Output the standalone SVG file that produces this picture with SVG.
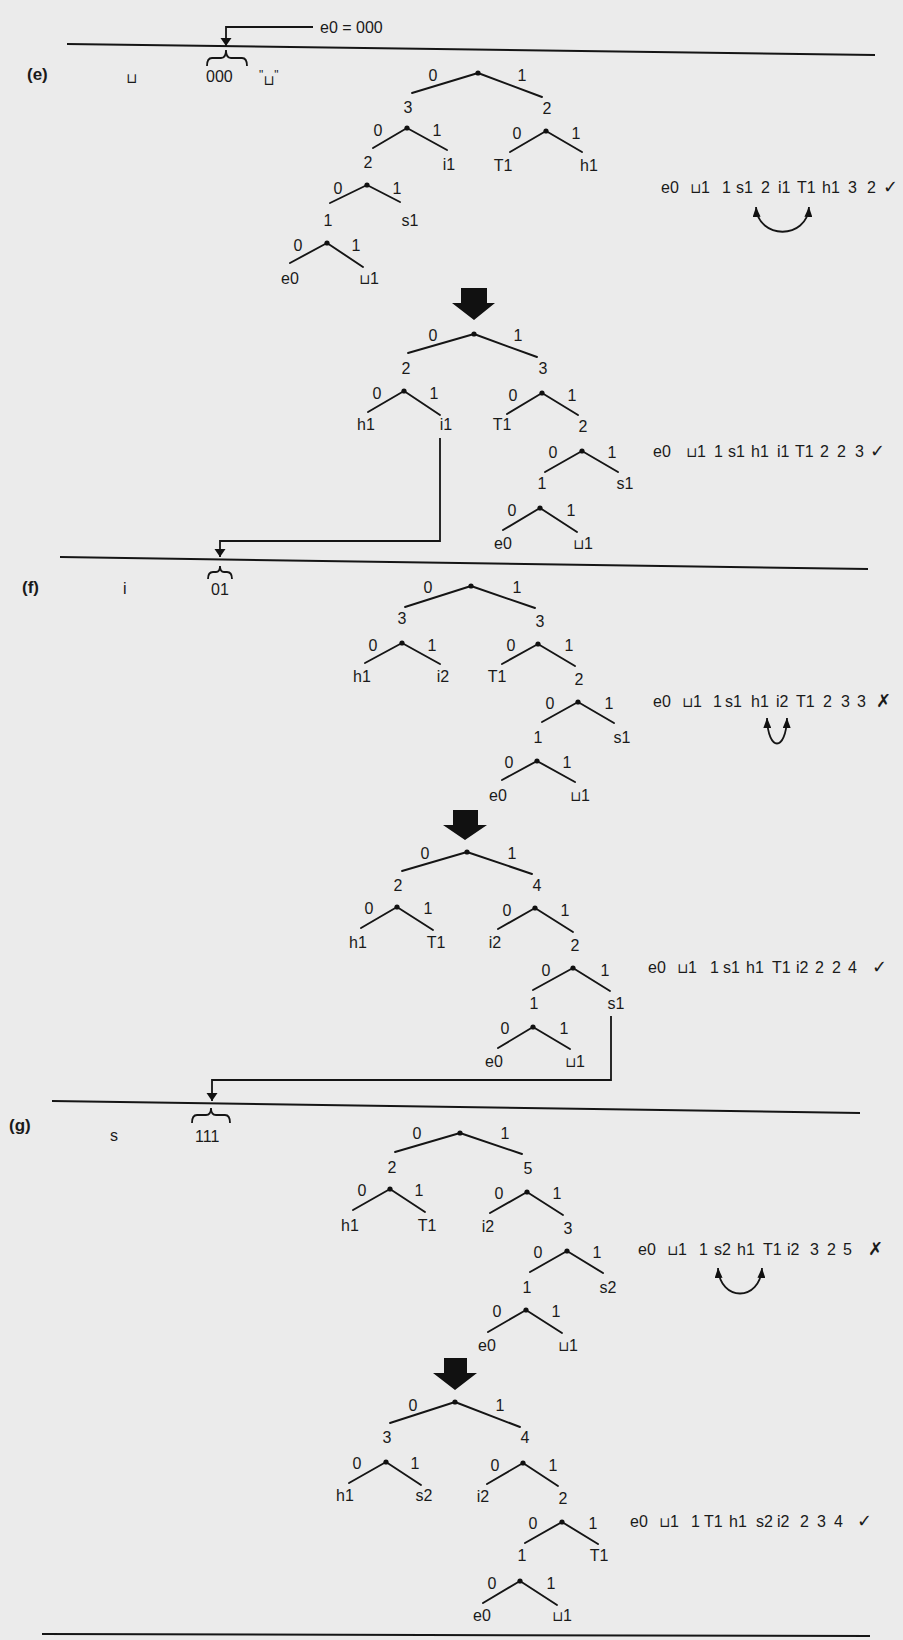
<svg xmlns="http://www.w3.org/2000/svg" width="903" height="1640" viewBox="0 0 903 1640">
<style>
.bg{fill:#ebebeb}
.sep{stroke:#151515;stroke-width:2;fill:none}
.ln{stroke:#151515;stroke-width:1.8;fill:none}
.edge{stroke:#151515;stroke-width:1.9;stroke-linecap:round}
.dot{fill:#111}
.t{font-family:"Liberation Sans",Arial,sans-serif;font-size:16px;fill:#1a1a1a;text-anchor:middle}
.s{font-family:"Liberation Sans",Arial,sans-serif;font-size:16px;fill:#1a1a1a}
.b{font-family:"Liberation Sans",Arial,sans-serif;font-size:17px;font-weight:bold;fill:#1a1a1a}
.cup{font-family:"DejaVu Sans",sans-serif;font-size:14px}
.sym{font-family:"DejaVu Sans",sans-serif;font-size:18px}
.blk{fill:#111}
</style>
<defs>
<marker id="ah" viewBox="0 0 8 12" refX="8" refY="6" markerWidth="8" markerHeight="12" markerUnits="userSpaceOnUse" orient="auto"><path d="M0,0.5 L8,6 L0,11.5 z" fill="#111"/></marker>
<marker id="sw" viewBox="0 0 10 8" refX="10" refY="4" markerWidth="10" markerHeight="8" markerUnits="userSpaceOnUse" orient="auto-start-reverse"><path d="M0,0 L10,4 L0,8 z" fill="#111"/></marker>
</defs>
<rect class="bg" x="0" y="0" width="903" height="1640"/>

<g id="separators">
<line class="sep" x1="67" y1="44" x2="875" y2="55"/>
<line class="sep" x1="60" y1="557" x2="868" y2="569"/>
<line class="sep" x1="52" y1="1101" x2="860" y2="1113"/>
<line class="sep" x1="42" y1="1634" x2="870" y2="1636"/>
</g>

<g id="header-e">
<text class="s" x="320" y="33" font-size="17">e0 = 000</text>
<text class="b" x="27" y="80">(e)</text>
<text class="s" x="126" y="83"><tspan class="cup">⊔</tspan></text>
<path class="ln" d="M207,66 Q207,58 212,58 H221 Q226,58 226,50 Q226,58 231,58 H242 Q247,58 247,66"/>
<text class="s" x="206" y="82">000</text>
<text class="s" x="259" y="85"><tspan font-size="12" dy="-6">"</tspan><tspan class="cup" dy="6">⊔</tspan><tspan font-size="12" dy="-6">"</tspan></text>
</g>

<g id="header-f">
<text class="b" x="22" y="593">(f)</text>
<text class="s" x="123" y="594">i</text>
<path class="ln" d="M208,579 Q208,572 213,572 H216 Q220,572 220,566 Q220,572 224,572 H227 Q232,572 232,579"/>
<text class="s" x="211" y="595">01</text>
</g>

<g id="header-g">
<text class="b" x="9" y="1131">(g)</text>
<text class="s" x="110" y="1141">s</text>
<path class="ln" d="M192,1123 Q192,1115 197,1115 H206 Q211,1115 211,1108 Q211,1115 216,1115 H225 Q230,1115 230,1123"/>
<text class="s" x="195" y="1142">111</text>
</g>

<g id="tree-e1">
<g id="e1-n0"><line class="edge" x1="478" y1="73" x2="412" y2="93"/><line class="edge" x1="478" y1="73" x2="542" y2="97"/><circle class="dot" cx="478" cy="73" r="2.6"/><text class="t" x="433" y="81">0</text><text class="t" x="522" y="81">1</text></g>
<g id="e1-n1"><text class="t" x="408" y="113">3</text><line class="edge" x1="407" y1="128" x2="373" y2="148"/><line class="edge" x1="407" y1="128" x2="447" y2="150"/><circle class="dot" cx="407" cy="128" r="2.6"/><text class="t" x="378" y="136">0</text><text class="t" x="437" y="136">1</text></g>
<g id="e1-n2"><text class="t" x="547" y="114">2</text><line class="edge" x1="546" y1="131" x2="510" y2="152"/><line class="edge" x1="546" y1="131" x2="582" y2="152"/><circle class="dot" cx="546" cy="131" r="2.6"/><text class="t" x="517" y="139">0</text><text class="t" x="576" y="139">1</text></g>
<g id="e1-n3"><text class="t" x="368" y="168">2</text><line class="edge" x1="367" y1="185" x2="330" y2="203"/><line class="edge" x1="367" y1="185" x2="400" y2="202"/><circle class="dot" cx="367" cy="185" r="2.6"/><text class="t" x="338" y="194">0</text><text class="t" x="397" y="194">1</text></g>
<g id="e1-n4"><text class="t" x="328" y="226">1</text><line class="edge" x1="327" y1="243" x2="290" y2="263"/><line class="edge" x1="327" y1="243" x2="363" y2="267"/><circle class="dot" cx="327" cy="243" r="2.6"/><text class="t" x="298" y="251">0</text><text class="t" x="356" y="251">1</text></g>
<g id="e1-leaves"><text class="t" x="449" y="170">i1</text><text class="t" x="503" y="171">T1</text><text class="t" x="589" y="171">h1</text><text class="t" x="410" y="226">s1</text><text class="t" x="290" y="284">e0</text><text class="t" x="369" y="284"><tspan class="cup">⊔</tspan>1</text></g>
</g>

<g id="list-e1"><text class="s" y="193"><tspan x="661">e0</tspan><tspan x="690" class="cup">⊔</tspan><tspan>1</tspan><tspan x="722">1</tspan><tspan x="736">s1</tspan><tspan x="761">2</tspan><tspan x="778">i1</tspan><tspan x="797">T1</tspan><tspan x="822">h1</tspan><tspan x="848">3</tspan><tspan x="867">2</tspan><tspan x="883" class="sym">✓</tspan></text></g>

<g id="tree-e2">
<g id="e2-n0"><line class="edge" x1="474" y1="334" x2="408" y2="353"/><line class="edge" x1="474" y1="334" x2="537" y2="357"/><circle class="dot" cx="474" cy="334" r="2.6"/><text class="t" x="433" y="341">0</text><text class="t" x="518" y="341">1</text></g>
<g id="e2-n1"><text class="t" x="406" y="374">2</text><line class="edge" x1="404" y1="391" x2="368" y2="412"/><line class="edge" x1="404" y1="391" x2="440" y2="415"/><circle class="dot" cx="404" cy="391" r="2.6"/><text class="t" x="377" y="399">0</text><text class="t" x="434" y="399">1</text></g>
<g id="e2-n2"><text class="t" x="543" y="374">3</text><line class="edge" x1="542" y1="393" x2="507" y2="414"/><line class="edge" x1="542" y1="393" x2="578" y2="415"/><circle class="dot" cx="542" cy="393" r="2.6"/><text class="t" x="513" y="401">0</text><text class="t" x="572" y="401">1</text></g>
<g id="e2-n3"><text class="t" x="583" y="432">2</text><line class="edge" x1="582" y1="451" x2="545" y2="472"/><line class="edge" x1="582" y1="451" x2="618" y2="472"/><circle class="dot" cx="582" cy="451" r="2.6"/><text class="t" x="553" y="458">0</text><text class="t" x="612" y="458">1</text></g>
<g id="e2-n4"><text class="t" x="542" y="489">1</text><line class="edge" x1="540" y1="508" x2="503" y2="530"/><line class="edge" x1="540" y1="508" x2="577" y2="532"/><circle class="dot" cx="540" cy="508" r="2.6"/><text class="t" x="512" y="516">0</text><text class="t" x="571" y="516">1</text></g>
<g id="e2-leaves"><text class="t" x="366" y="430">h1</text><text class="t" x="446" y="430">i1</text><text class="t" x="502" y="430">T1</text><text class="t" x="625" y="489">s1</text><text class="t" x="503" y="549">e0</text><text class="t" x="583" y="549"><tspan class="cup">⊔</tspan>1</text></g>
</g>

<g id="list-e2"><text class="s" y="457"><tspan x="653">e0</tspan><tspan x="686" class="cup">⊔</tspan><tspan>1</tspan><tspan x="714">1</tspan><tspan x="728">s1</tspan><tspan x="751">h1</tspan><tspan x="777">i1</tspan><tspan x="795">T1</tspan><tspan x="820">2</tspan><tspan x="837">2</tspan><tspan x="855">3</tspan><tspan x="870" class="sym">✓</tspan></text></g>

<g id="tree-f1">
<g id="f1-n0"><line class="edge" x1="471" y1="586" x2="405" y2="607"/><line class="edge" x1="471" y1="586" x2="535" y2="608"/><circle class="dot" cx="471" cy="586" r="2.6"/><text class="t" x="428" y="593">0</text><text class="t" x="517" y="593">1</text></g>
<g id="f1-n1"><text class="t" x="402" y="624">3</text><line class="edge" x1="402" y1="643" x2="365" y2="663"/><line class="edge" x1="402" y1="643" x2="440" y2="664"/><circle class="dot" cx="402" cy="643" r="2.6"/><text class="t" x="373" y="651">0</text><text class="t" x="432" y="651">1</text></g>
<g id="f1-n2"><text class="t" x="540" y="627">3</text><line class="edge" x1="538" y1="644" x2="502" y2="664"/><line class="edge" x1="538" y1="644" x2="575" y2="666"/><circle class="dot" cx="538" cy="644" r="2.6"/><text class="t" x="511" y="651">0</text><text class="t" x="569" y="651">1</text></g>
<g id="f1-n3"><text class="t" x="579" y="685">2</text><line class="edge" x1="578" y1="702" x2="542" y2="722"/><line class="edge" x1="578" y1="702" x2="614" y2="723"/><circle class="dot" cx="578" cy="702" r="2.6"/><text class="t" x="550" y="709">0</text><text class="t" x="609" y="709">1</text></g>
<g id="f1-n4"><text class="t" x="538" y="743">1</text><line class="edge" x1="537" y1="761" x2="502" y2="780"/><line class="edge" x1="537" y1="761" x2="575" y2="782"/><circle class="dot" cx="537" cy="761" r="2.6"/><text class="t" x="509" y="768">0</text><text class="t" x="567" y="768">1</text></g>
<g id="f1-leaves"><text class="t" x="362" y="682">h1</text><text class="t" x="443" y="682">i2</text><text class="t" x="497" y="682">T1</text><text class="t" x="622" y="743">s1</text><text class="t" x="498" y="801">e0</text><text class="t" x="580" y="801"><tspan class="cup">⊔</tspan>1</text></g>
</g>

<g id="list-f1"><text class="s" y="707"><tspan x="653">e0</tspan><tspan x="682" class="cup">⊔</tspan><tspan>1</tspan><tspan x="713">1</tspan><tspan x="725">s1</tspan><tspan x="751">h1</tspan><tspan x="776">i2</tspan><tspan x="796">T1</tspan><tspan x="823">2</tspan><tspan x="841">3</tspan><tspan x="857">3</tspan><tspan x="876" class="sym">✗</tspan></text></g>

<g id="tree-f2">
<g id="f2-n0"><line class="edge" x1="467" y1="852" x2="402" y2="871"/><line class="edge" x1="467" y1="852" x2="532" y2="874"/><circle class="dot" cx="467" cy="852" r="2.6"/><text class="t" x="425" y="859">0</text><text class="t" x="512" y="859">1</text></g>
<g id="f2-n1"><text class="t" x="398" y="891">2</text><line class="edge" x1="397" y1="907" x2="361" y2="928"/><line class="edge" x1="397" y1="907" x2="433" y2="930"/><circle class="dot" cx="397" cy="907" r="2.6"/><text class="t" x="369" y="914">0</text><text class="t" x="428" y="914">1</text></g>
<g id="f2-n2"><text class="t" x="537" y="891">4</text><line class="edge" x1="535" y1="908" x2="498" y2="929"/><line class="edge" x1="535" y1="908" x2="573" y2="932"/><circle class="dot" cx="535" cy="908" r="2.6"/><text class="t" x="507" y="916">0</text><text class="t" x="565" y="916">1</text></g>
<g id="f2-n3"><text class="t" x="575" y="951">2</text><line class="edge" x1="573" y1="968" x2="533" y2="990"/><line class="edge" x1="573" y1="968" x2="610" y2="991"/><circle class="dot" cx="573" cy="968" r="2.6"/><text class="t" x="546" y="976">0</text><text class="t" x="605" y="976">1</text></g>
<g id="f2-n4"><text class="t" x="534" y="1009">1</text><line class="edge" x1="533" y1="1027" x2="498" y2="1048"/><line class="edge" x1="533" y1="1027" x2="570" y2="1049"/><circle class="dot" cx="533" cy="1027" r="2.6"/><text class="t" x="505" y="1034">0</text><text class="t" x="564" y="1034">1</text></g>
<g id="f2-leaves"><text class="t" x="358" y="948">h1</text><text class="t" x="436" y="948">T1</text><text class="t" x="495" y="948">i2</text><text class="t" x="616" y="1009">s1</text><text class="t" x="494" y="1067">e0</text><text class="t" x="575" y="1067"><tspan class="cup">⊔</tspan>1</text></g>
</g>

<g id="list-f2"><text class="s" y="973"><tspan x="648">e0</tspan><tspan x="677" class="cup">⊔</tspan><tspan>1</tspan><tspan x="710">1</tspan><tspan x="723">s1</tspan><tspan x="746">h1</tspan><tspan x="772">T1</tspan><tspan x="796">i2</tspan><tspan x="815">2</tspan><tspan x="832">2</tspan><tspan x="848">4</tspan><tspan x="872" class="sym">✓</tspan></text></g>

<g id="tree-g1">
<g id="g1-n0"><line class="edge" x1="460" y1="1133" x2="395" y2="1152"/><line class="edge" x1="460" y1="1133" x2="522" y2="1154"/><circle class="dot" cx="460" cy="1133" r="2.6"/><text class="t" x="417" y="1139">0</text><text class="t" x="505" y="1139">1</text></g>
<g id="g1-n1"><text class="t" x="392" y="1173">2</text><line class="edge" x1="390" y1="1189" x2="353" y2="1210"/><line class="edge" x1="390" y1="1189" x2="425" y2="1212"/><circle class="dot" cx="390" cy="1189" r="2.6"/><text class="t" x="362" y="1196">0</text><text class="t" x="419" y="1196">1</text></g>
<g id="g1-n2"><text class="t" x="528" y="1174">5</text><line class="edge" x1="527" y1="1192" x2="490" y2="1213"/><line class="edge" x1="527" y1="1192" x2="563" y2="1215"/><circle class="dot" cx="527" cy="1192" r="2.6"/><text class="t" x="499" y="1199">0</text><text class="t" x="557" y="1199">1</text></g>
<g id="g1-n3"><text class="t" x="568" y="1234">3</text><line class="edge" x1="567" y1="1251" x2="530" y2="1272"/><line class="edge" x1="567" y1="1251" x2="603" y2="1273"/><circle class="dot" cx="567" cy="1251" r="2.6"/><text class="t" x="538" y="1258">0</text><text class="t" x="597" y="1258">1</text></g>
<g id="g1-n4"><text class="t" x="527" y="1293">1</text><line class="edge" x1="526" y1="1310" x2="488" y2="1332"/><line class="edge" x1="526" y1="1310" x2="562" y2="1333"/><circle class="dot" cx="526" cy="1310" r="2.6"/><text class="t" x="497" y="1317">0</text><text class="t" x="556" y="1317">1</text></g>
<g id="g1-leaves"><text class="t" x="350" y="1231">h1</text><text class="t" x="427" y="1231">T1</text><text class="t" x="488" y="1232">i2</text><text class="t" x="608" y="1293">s2</text><text class="t" x="487" y="1351">e0</text><text class="t" x="568" y="1351"><tspan class="cup">⊔</tspan>1</text></g>
</g>

<g id="list-g1"><text class="s" y="1255"><tspan x="638">e0</tspan><tspan x="667" class="cup">⊔</tspan><tspan>1</tspan><tspan x="699">1</tspan><tspan x="714">s2</tspan><tspan x="737">h1</tspan><tspan x="763">T1</tspan><tspan x="787">i2</tspan><tspan x="810">3</tspan><tspan x="827">2</tspan><tspan x="843">5</tspan><tspan x="868" class="sym">✗</tspan></text></g>

<g id="tree-g2">
<g id="g2-n0"><line class="edge" x1="455" y1="1402" x2="390" y2="1423"/><line class="edge" x1="455" y1="1402" x2="520" y2="1427"/><circle class="dot" cx="455" cy="1402" r="2.6"/><text class="t" x="413" y="1411">0</text><text class="t" x="500" y="1411">1</text></g>
<g id="g2-n1"><text class="t" x="387" y="1443">3</text><line class="edge" x1="386" y1="1462" x2="349" y2="1483"/><line class="edge" x1="386" y1="1462" x2="421" y2="1485"/><circle class="dot" cx="386" cy="1462" r="2.6"/><text class="t" x="357" y="1469">0</text><text class="t" x="415" y="1469">1</text></g>
<g id="g2-n2"><text class="t" x="525" y="1443">4</text><line class="edge" x1="523" y1="1463" x2="487" y2="1484"/><line class="edge" x1="523" y1="1463" x2="558" y2="1486"/><circle class="dot" cx="523" cy="1463" r="2.6"/><text class="t" x="495" y="1471">0</text><text class="t" x="553" y="1471">1</text></g>
<g id="g2-n3"><text class="t" x="563" y="1504">2</text><line class="edge" x1="562" y1="1522" x2="525" y2="1543"/><line class="edge" x1="562" y1="1522" x2="598" y2="1544"/><circle class="dot" cx="562" cy="1522" r="2.6"/><text class="t" x="533" y="1529">0</text><text class="t" x="593" y="1529">1</text></g>
<g id="g2-n4"><text class="t" x="522" y="1561">1</text><line class="edge" x1="520" y1="1581" x2="483" y2="1603"/><line class="edge" x1="520" y1="1581" x2="557" y2="1605"/><circle class="dot" cx="520" cy="1581" r="2.6"/><text class="t" x="492" y="1589">0</text><text class="t" x="551" y="1589">1</text></g>
<g id="g2-leaves"><text class="t" x="345" y="1501">h1</text><text class="t" x="424" y="1501">s2</text><text class="t" x="483" y="1502">i2</text><text class="t" x="599" y="1561">T1</text><text class="t" x="482" y="1621">e0</text><text class="t" x="562" y="1621"><tspan class="cup">⊔</tspan>1</text></g>
</g>

<g id="list-g2"><text class="s" y="1527"><tspan x="630">e0</tspan><tspan x="659" class="cup">⊔</tspan><tspan>1</tspan><tspan x="691">1</tspan><tspan x="704">T1</tspan><tspan x="729">h1</tspan><tspan x="756">s2</tspan><tspan x="777">i2</tspan><tspan x="800">2</tspan><tspan x="817">3</tspan><tspan x="834">4</tspan><tspan x="857" class="sym">✓</tspan></text></g>

<g id="connectors">
<path class="ln" d="M313,27 H226 V46" marker-end="url(#ah)"/>
<path class="ln" d="M440,438 V541 H220 V557" marker-end="url(#ah)"/>
<path class="ln" d="M611,1016 V1080 H212 V1101" marker-end="url(#ah)"/>
<path class="ln" d="M756,207 C758,240 807,240 809,207" marker-start="url(#sw)" marker-end="url(#sw)"/>
<path class="ln" d="M767,718 C768,752 786,752 787,718" marker-start="url(#sw)" marker-end="url(#sw)"/>
<path class="ln" d="M718,1268 C720,1302 760,1302 762,1268" marker-start="url(#sw)" marker-end="url(#sw)"/>
<polygon class="blk" points="461,288 487,288 487,303 495,303 474,320 452,303 461,303"/>
<polygon class="blk" points="453,810 478,810 478,825 487,825 465,840 443,825 453,825"/>
<polygon class="blk" points="444,1358 467,1358 467,1373 477,1373 455,1390 433,1373 444,1373"/>
</g>
</svg>
